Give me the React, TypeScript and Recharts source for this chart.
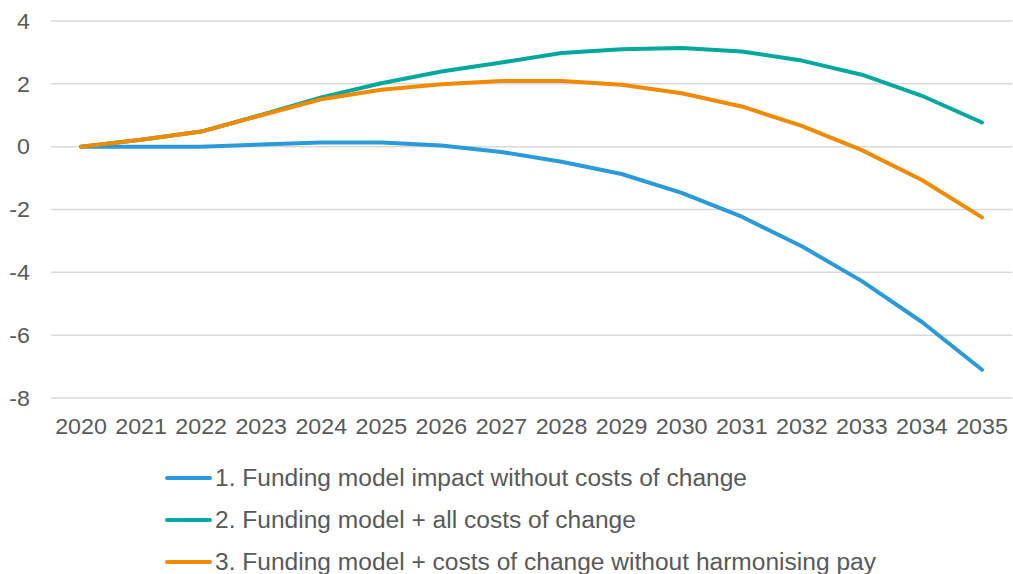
import { LineChart, Line, XAxis, YAxis, CartesianGrid, Legend } from "recharts";

const years = [
  "2020", "2021", "2022", "2023", "2024", "2025", "2026", "2027",
  "2028", "2029", "2030", "2031", "2032", "2033", "2034", "2035",
];

// 1. Funding model impact without costs of change
const fundingOnly = [0, 0, 0, 0.07, 0.13, 0.13, 0.04, -0.17, -0.48, -0.87, -1.47, -2.23, -3.17, -4.28, -5.58, -7.1];
// 2. Funding model + all costs of change
const allCosts = [0, 0.22, 0.48, 1.01, 1.57, 2.02, 2.39, 2.68, 2.98, 3.1, 3.14, 3.03, 2.74, 2.29, 1.62, 0.77];
// 3. Funding model + costs of change without harmonising pay
const noHarmonising = [0, 0.22, 0.48, 1.0, 1.51, 1.81, 1.99, 2.09, 2.09, 1.97, 1.7, 1.28, 0.66, -0.11, -1.06, -2.25];

const yTicks = [-8, -6, -4, -2, 0, 2, 4];

const seriesNames = [
  "1. Funding model impact without costs of change",
  "2. Funding model + all costs of change",
  "3. Funding model + costs of change without harmonising pay",
];
const seriesColors = ["#2b9ad8", "#00a89d", "#f08a00"];

const data = years.map((year, i) => ({
  year,
  s1: fundingOnly[i],
  s2: allCosts[i],
  s3: noHarmonising[i],
}));

const font = '"Liberation Sans", Arial, sans-serif';
const textColor = "#595959";

// the source text is a bit wider than Arial at its height, so stretch it a little
function StretchedTick(props: any) {
  const { x, y, payload, anchor, dy } = props;
  return (
    <g transform={`translate(${x},${y}) scale(1.055,1)`}>
      <text x={0} y={0} dy={dy} textAnchor={anchor} fill={textColor} fontSize={22} fontFamily={font}>
        {payload.value}
      </text>
    </g>
  );
}

function LegendList() {
  return (
    <div style={{ fontFamily: font, fontSize: 23, color: textColor }}>
      {seriesNames.map((name, i) => (
        <div key={name} style={{ height: 42, display: "flex", alignItems: "center" }}>
          <span
            style={{
              display: "inline-block",
              width: 47,
              height: 4,
              borderRadius: 2,
              background: seriesColors[i],
              marginRight: 3,
            }}
          />
          <span style={{ display: "inline-block", transform: "scaleX(1.067)", transformOrigin: "left center", whiteSpace: "nowrap" }}>
            {name}
          </span>
        </div>
      ))}
    </div>
  );
}

export default function App() {
  return (
    <div style={{ position: "absolute", left: 0, top: 0, width: 1013, height: 574, overflow: "hidden", background: "#fff" }}>
      <LineChart width={1013} height={574} data={data} margin={{ top: 21, right: 1, bottom: 0, left: 0 }}>
        <CartesianGrid vertical={false} stroke="#d9d9d9" strokeWidth={1.5} />
        <XAxis
          dataKey="year"
          axisLine={false}
          tickLine={false}
          height={50}
          tickMargin={14}
          padding={{ left: 30, right: 30 }}
          interval={0}
          tick={(p: any) => <StretchedTick {...p} anchor="middle" dy="0.71em" />}
        />
        <YAxis
          domain={[-8, 4]}
          ticks={yTicks}
          axisLine={false}
          tickLine={false}
          width={51}
          tickMargin={15}
          tick={(p: any) => <StretchedTick {...p} anchor="end" dy="0.355em" />}
        />
        <Legend
          verticalAlign="bottom"
          content={() => <LegendList />}
          wrapperStyle={{ top: 457, left: 165, width: 820, height: 126 }}
        />
        <Line dataKey="s1" name={seriesNames[0]} stroke={seriesColors[0]} strokeWidth={4} strokeLinecap="round" strokeLinejoin="round" dot={false} isAnimationActive={false} />
        <Line dataKey="s2" name={seriesNames[1]} stroke={seriesColors[1]} strokeWidth={4} strokeLinecap="round" strokeLinejoin="round" dot={false} isAnimationActive={false} />
        <Line dataKey="s3" name={seriesNames[2]} stroke={seriesColors[2]} strokeWidth={4} strokeLinecap="round" strokeLinejoin="round" dot={false} isAnimationActive={false} />
      </LineChart>
    </div>
  );
}
